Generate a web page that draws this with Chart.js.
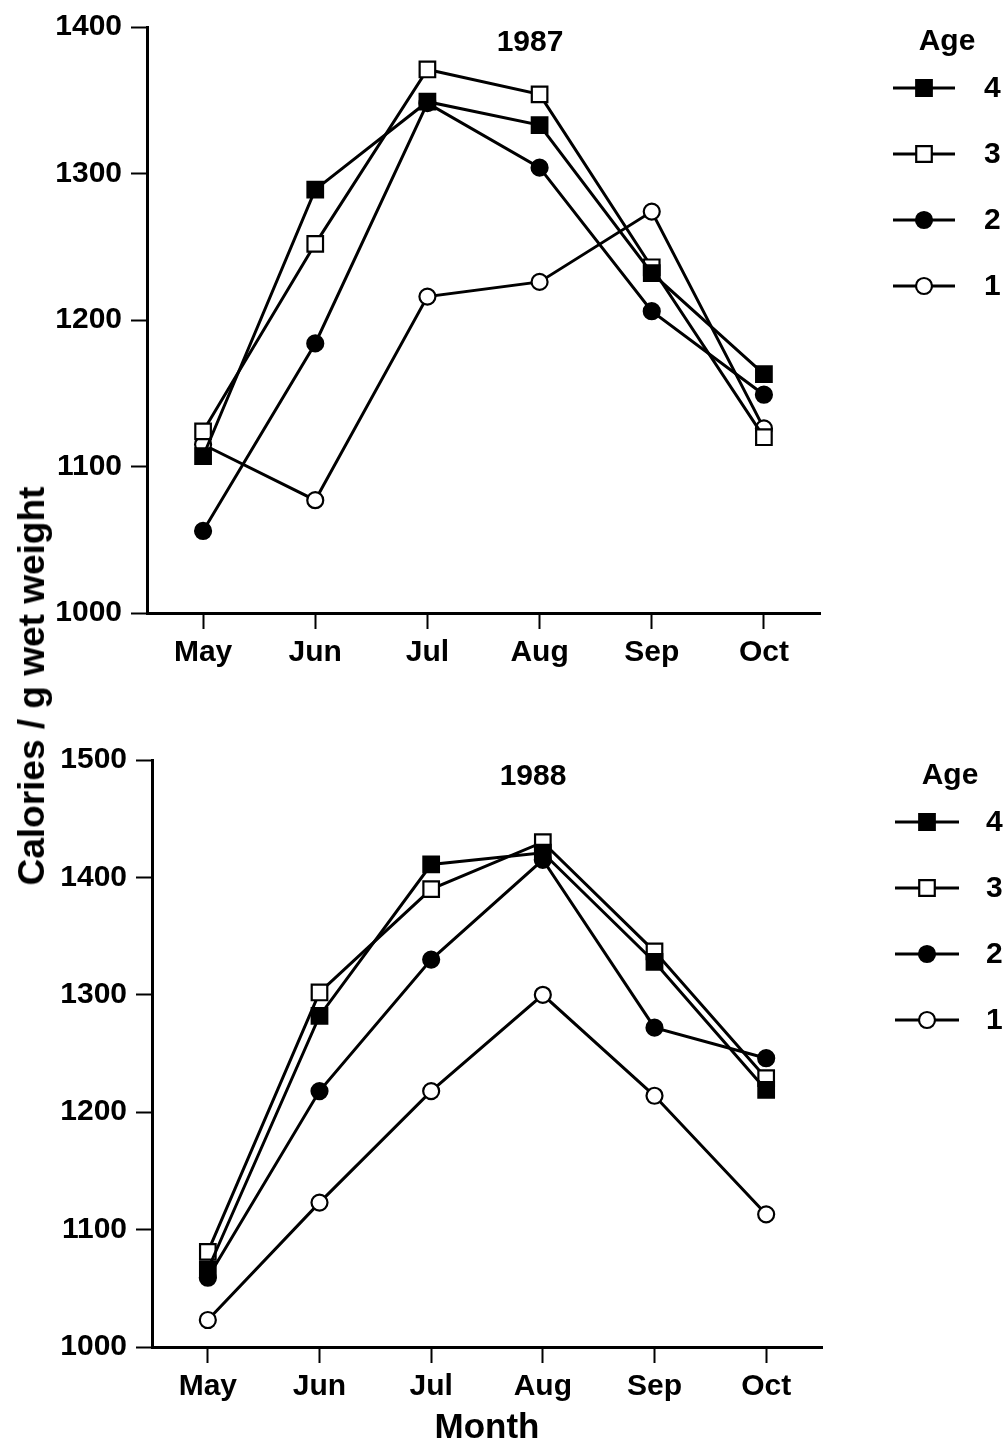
<!DOCTYPE html>
<html>
<head>
<meta charset="utf-8">
<script src="https://cdn.jsdelivr.net/npm/chart.js@4.4.1/dist/chart.umd.min.js"></script>
<style>
  html, body { margin: 0; padding: 0; background: #fff; }
  body { width: 1007px; height: 1449px; position: relative; overflow: hidden; }
  .panel { position: absolute; left: 0; width: 1007px; }
  #ytitle {
    position: absolute; left: 32px; top: 686px;
    transform: translate(-50%, -50%) rotate(-90deg);
    font: bold 37px "Liberation Sans", Arial, sans-serif; color: #000; white-space: nowrap;
  }
</style>
</head>
<body>
<div class="panel" style="top:0;height:700px"><canvas id="c1" width="1007" height="700"></canvas></div>
<div class="panel" style="top:700px;height:749px"><canvas id="c2" width="1007" height="749"></canvas></div>
<div id="ytitle">Calories / g wet weight</div>
<script>
// ---------- data ----------
const months = ['May', 'Jun', 'Jul', 'Aug', 'Sep', 'Oct'];
const ageLabels = ['4', '3', '2', '1'];

const age4_1987 = [1107, 1289, 1349, 1333, 1232, 1163];
const age3_1987 = [1124, 1252, 1371, 1354, 1236, 1120];
const age2_1987 = [1056, 1184, 1348, 1304, 1206, 1149];
const age1_1987 = [1115, 1077, 1216, 1226, 1274, 1126];

const age4_1988 = [1066, 1282, 1411, 1421, 1328, 1219];
const age3_1988 = [1081, 1302, 1390, 1430, 1337, 1229];
const age2_1988 = [1059, 1218, 1330, 1415, 1272, 1246];
const age1_1988 = [1023, 1123, 1218, 1300, 1214, 1113];

const yTicks1987 = [1000, 1100, 1200, 1300, 1400];
const yTicks1988 = [1000, 1100, 1200, 1300, 1400, 1500];

// ---------- styles ----------
const FONT = '"Liberation Sans", Arial, sans-serif';
const styles = [
  { pointStyle: 'rect', fill: '#000', radius: 11 },
  { pointStyle: 'rect', fill: '#fff', radius: 11 },
  { pointStyle: 'circle', fill: '#000', radius: 8 },
  { pointStyle: 'circle', fill: '#fff', radius: 8 }
];

function makeDatasets(series) {
  return series.map((vals, i) => ({
    label: ageLabels[i],
    data: vals,
    borderColor: '#000',
    borderWidth: 3,
    pointStyle: styles[i].pointStyle,
    pointRadius: styles[i].radius,
    pointHoverRadius: styles[i].radius,
    pointBackgroundColor: styles[i].fill,
    pointBorderColor: '#000',
    pointBorderWidth: 2.2,
    tension: 0,
    fill: false
  }));
}

const legendPlugin = {
  id: 'ageLegend',
  afterDraw(chart, args, o) {
    const ctx = chart.ctx;
    ctx.save();
    ctx.fillStyle = '#000';
    ctx.font = 'bold 30px ' + FONT;
    ctx.textAlign = 'center';
    ctx.textBaseline = 'middle';
    ctx.fillText(o.year, o.yearX, o.yearY);
    ctx.fillText('Age', o.headX, o.headY);
    chart.data.datasets.forEach((ds, i) => {
      const y = o.y0 + i * o.dy;
      ctx.strokeStyle = '#000';
      ctx.lineWidth = ds.borderWidth;
      ctx.beginPath();
      ctx.moveTo(o.lx1, y);
      ctx.lineTo(o.lx2, y);
      ctx.stroke();
      ctx.fillStyle = ds.pointBackgroundColor;
      ctx.lineWidth = ds.pointBorderWidth;
      Chart.helpers.drawPoint(ctx, { pointStyle: ds.pointStyle, radius: ds.pointRadius, borderWidth: ds.pointBorderWidth, rotation: 0 }, o.mx, y);
      ctx.fillStyle = '#000';
      ctx.textAlign = 'left';
      ctx.fillText(ds.label, o.nx, y + 1);
      ctx.textAlign = 'center';
    });
    ctx.restore();
  }
};

function makeChart(id, series, ticks, yMin, yMax, cfg) {
  return new Chart(document.getElementById(id), {
    type: 'line',
    data: { labels: months, datasets: makeDatasets(series) },
    plugins: [legendPlugin],
    options: {
      responsive: false,
      animation: false,
      events: [],
      layout: { padding: { top: cfg.padTop, right: cfg.padRight, left: 0, bottom: 0 } },
      plugins: {
        legend: { display: false },
        title: { display: false },
        tooltip: { enabled: false },
        ageLegend: cfg.legend
      },
      scales: {
        x: {
          type: 'category',
          offset: true,
          afterFit: s => { s.height = cfg.xHeight; },
          grid: { drawOnChartArea: false, drawTicks: true, tickLength: 16, tickWidth: 2, tickColor: '#000', offset: false },
          border: { display: true, color: '#000', width: 3 },
          ticks: { color: '#000', font: { family: FONT, size: 30, weight: 'bold' }, padding: 6, maxRotation: 0, autoSkip: false },
          title: cfg.xTitle ? { display: true, text: 'Month', color: '#000', font: { family: FONT, size: 35, weight: 'bold' }, padding: { top: 0, bottom: 0 } } : { display: false }
        },
        y: {
          min: yMin, max: yMax,
          afterFit: s => { s.width = cfg.yWidth; },
          afterBuildTicks: s => { s.ticks = ticks.map(v => ({ value: v })); },
          grid: { drawOnChartArea: false, drawTicks: true, tickLength: 16, tickWidth: 2, tickColor: '#000' },
          border: { display: true, color: '#000', width: 3 },
          ticks: { color: '#000', font: { family: FONT, size: 30, weight: 'bold' }, padding: 9, callback: v => String(v) }
        }
      }
    }
  });
}

makeChart('c1', [age4_1987, age3_1987, age2_1987, age1_1987], yTicks1987, 1000, 1400, {
  padTop: 27, padRight: 187, yWidth: 147, xHeight: 87, xTitle: false,
  legend: { year: '1987', yearX: 530, yearY: 43, headX: 947, headY: 42, y0: 88, dy: 66, lx1: 893, lx2: 955, mx: 924, nx: 984 }
});

makeChart('c2', [age4_1988, age3_1988, age2_1988, age1_1988], yTicks1988, 1000, 1500, {
  padTop: 60, padRight: 185, yWidth: 152, xHeight: 102, xTitle: true,
  legend: { year: '1988', yearX: 533, yearY: 77, headX: 950, headY: 76, y0: 122, dy: 66, lx1: 895, lx2: 959, mx: 927, nx: 986 }
});
</script>
</body>
</html>
